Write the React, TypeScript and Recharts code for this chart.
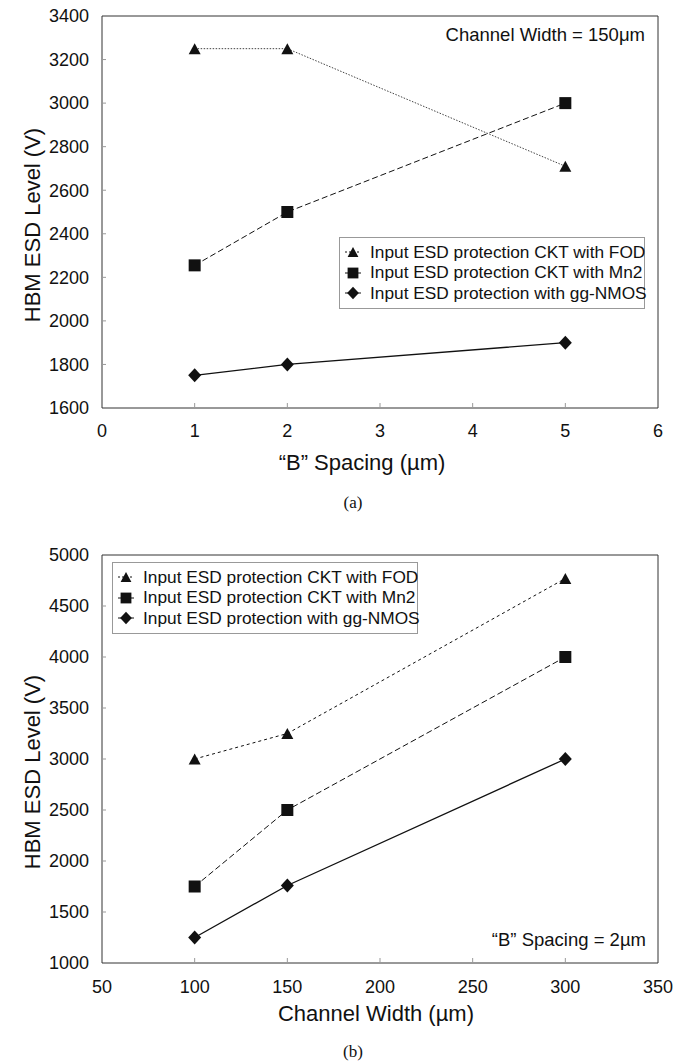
import React from "react";
import { LineChart, Line, XAxis, YAxis, Legend, ReferenceArea, Label } from "recharts";

// (a) HBM ESD level vs "B" spacing, channel width = 150um
const spacingUm = [1, 2, 5];
const fodA = [3250, 3250, 2710];
const mn2A = [2255, 2500, 3000];
const ggA = [1750, 1800, 1900];
const spacingTicks = [0, 1, 2, 3, 4, 5, 6];
const levelTicksA = [1600, 1800, 2000, 2200, 2400, 2600, 2800, 3000, 3200, 3400];

// (b) HBM ESD level vs channel width, "B" spacing = 2um
const widthUm = [100, 150, 300];
const fodB = [3000, 3250, 4770];
const mn2B = [1750, 2500, 4000];
const ggB = [1250, 1760, 3000];
const widthTicks = [50, 100, 150, 200, 250, 300, 350];
const levelTicksB = [1000, 1500, 2000, 2500, 3000, 3500, 4000, 4500, 5000];

const seriesNames = [
  "Input ESD protection CKT with FOD",
  "Input ESD protection CKT with Mn2",
  "Input ESD protection with gg-NMOS",
];

const FONT = "'Liberation Sans', Arial, Helvetica, sans-serif";
const INK = "#111";

const dataA = spacingUm.map((x, i) => ({ x, fod: fodA[i], mn2: mn2A[i], gg: ggA[i] }));
const dataB = widthUm.map((x, i) => ({ x, fod: fodB[i], mn2: mn2B[i], gg: ggB[i] }));

type Shape = "triangle" | "square" | "diamond";

function marker(shape: Shape, cx: number, cy: number, s = 1) {
  if (shape === "triangle") {
    const w = 6 * s, h = 11 * s;
    return <polygon points={`${cx - w},${cy + h / 2} ${cx + w},${cy + h / 2} ${cx},${cy - h / 2}`} fill={INK} />;
  }
  if (shape === "square") {
    const r = 6 * s;
    return <rect x={cx - r} y={cy - r} width={2 * r} height={2 * r} fill={INK} />;
  }
  const w = 6.5 * s, h = 7 * s;
  return <polygon points={`${cx},${cy - h} ${cx + w},${cy} ${cx},${cy + h} ${cx - w},${cy}`} fill={INK} />;
}

const dotFor = (shape: Shape) => (props: any) => {
  const { cx, cy, index } = props;
  if (cx == null || cy == null) return <g key={index} />;
  return <g key={`${shape}-${index}`}>{marker(shape, cx, cy)}</g>;
};

const legendItems: { shape: Shape; dash: string }[] = [
  { shape: "triangle", dash: "2 2" },
  { shape: "square", dash: "" },
  { shape: "diamond", dash: "" },
];

function LegendBox() {
  return (
    <div
      style={{
        width: 306,
        height: 72,
        boxSizing: "border-box",
        border: "1px solid #999",
        background: "#fff",
        padding: "4px 0 0 4px",
        fontFamily: FONT,
        fontSize: 17.3,
        color: INK,
        textAlign: "left",
      }}
    >
      {seriesNames.map((name, i) => (
        <div key={name} style={{ display: "flex", alignItems: "center", height: 20.5, whiteSpace: "nowrap" }}>
          <svg width={26} height={16} style={{ flex: "none" }}>
            <line x1={1} x2={17} y1={8} y2={8} stroke={INK} strokeWidth={1} strokeDasharray={legendItems[i].dash} />
            {marker(legendItems[i].shape, 9, 8, 0.9)}
          </svg>
          <span>{name}</span>
        </div>
      ))}
    </div>
  );
}

const YTick = (props: any) => {
  const { x, y, payload, index, visibleTicksCount } = props;
  const inner = index > 0 && index < visibleTicksCount - 1;
  return (
    <g>
      {inner && <line x1={x + 13} x2={x + 17} y1={y} y2={y} stroke="#999" />}
      <text x={x} y={y} dy="0.35em" textAnchor="end" fontSize={18} fontFamily={FONT} fill={INK}>
        {payload.value}
      </text>
    </g>
  );
};

const XTick = (props: any) => {
  const { x, y, payload, index, visibleTicksCount, gap } = props;
  const inner = index > 0 && index < visibleTicksCount - 1;
  return (
    <g>
      {inner && <line x1={x} x2={x} y1={y - gap} y2={y - gap - 5} stroke="#999" />}
      <text x={x} y={y} dy="0.71em" textAnchor="middle" fontSize={18} fontFamily={FONT} fill={INK}>
        {payload.value}
      </text>
    </g>
  );
};

function xTitle(text: string, dx: number, dy: number) {
  return (props: any) => {
    const vb = props.viewBox || { x: 0, y: 0, width: 0, height: 0 };
    return (
      <text x={vb.x + vb.width / 2 + dx} y={vb.y + dy} textAnchor="middle" fontSize={22} fontFamily={FONT} fill={INK}>
        {text}
      </text>
    );
  };
}

function yTitle(text: string, dx: number, dy: number) {
  return (props: any) => {
    const vb = props.viewBox || { x: 0, y: 0, width: 0, height: 0 };
    const cx = vb.x + dx;
    const cy = vb.y + vb.height / 2 + dy;
    return (
      <text
        x={cx}
        y={cy}
        transform={`rotate(-90 ${cx} ${cy})`}
        textAnchor="middle"
        dominantBaseline="central"
        fontSize={22}
        fontFamily={FONT}
        fill={INK}
      >
        {text}
      </text>
    );
  };
}

const note: React.CSSProperties = {
  position: "absolute",
  fontFamily: FONT,
  fontSize: 18.5,
  color: INK,
  whiteSpace: "nowrap",
  lineHeight: "22px",
};

const caption: React.CSSProperties = {
  position: "absolute",
  width: 80,
  textAlign: "center",
  fontFamily: "'Liberation Serif', 'Times New Roman', serif",
  fontSize: 17,
  color: INK,
  lineHeight: "20px",
};

export default function App() {
  return (
    <div style={{ position: "absolute", left: 0, top: 0, width: 674, height: 1064, background: "#fff" }}>
      {/* (a) */}
      <div style={{ position: "absolute", left: 0, top: 0 }}>
        <LineChart width={674} height={480} data={dataA} margin={{ top: 16, right: 16, left: 0, bottom: 0 }}>
          <XAxis
            dataKey="x"
            type="number"
            domain={[0, 6]}
            ticks={spacingTicks}
            axisLine={false}
            tickLine={false}
            tickSize={6}
            tickMargin={10}
            height={72}
            tick={(p: any) => <XTick {...p} gap={16} />}
            interval={0}
          >
            <Label content={xTitle("\u201CB\u201D Spacing (\u00B5m)", -18, 62)} />
          </XAxis>
          <YAxis
            type="number"
            domain={[1600, 3400]}
            ticks={levelTicksA}
            axisLine={false}
            tickLine={false}
            tickSize={6}
            tickMargin={7}
            width={102}
            tick={<YTick />}
            interval={0}
          >
            <Label content={yTitle("HBM ESD Level (V)", 32, 13)} />
          </YAxis>
          <ReferenceArea x1={0} x2={6} y1={1600} y2={3400} fill="none" stroke="#333" strokeWidth={1} ifOverflow="visible" />
          <Legend
            layout="horizontal"
            verticalAlign="middle"
            align="center"
            wrapperStyle={{ position: "absolute", left: 339, top: 237, width: 306, height: 72 }}
            content={() => <LegendBox />}
          />
          <Line dataKey="fod" stroke="#444" strokeWidth={1} strokeDasharray="1.5 1.5" dot={dotFor("triangle")} isAnimationActive={false} />
          <Line dataKey="mn2" stroke={INK} strokeWidth={1} strokeDasharray="6 3" dot={dotFor("square")} isAnimationActive={false} />
          <Line dataKey="gg" stroke={INK} strokeWidth={1.3} dot={dotFor("diamond")} isAnimationActive={false} />
        </LineChart>
        <div style={{ ...note, right: 674 - 645, top: 24 }}>Channel Width = 150{"\u03BC"}m</div>
      </div>
      <div style={{ ...caption, left: 313, top: 493 }}>(a)</div>

      {/* (b) */}
      <div style={{ position: "absolute", left: 0, top: 540 }}>
        <LineChart width={674} height={524} data={dataB} margin={{ top: 15, right: 16, left: 0, bottom: 0 }}>
          <XAxis
            dataKey="x"
            type="number"
            domain={[50, 350]}
            ticks={widthTicks}
            axisLine={false}
            tickLine={false}
            tickSize={6}
            tickMargin={11}
            height={101}
            tick={(p: any) => <XTick {...p} gap={17} />}
            interval={0}
          >
            <Label content={xTitle("Channel Width (\u00B5m)", -4, 58)} />
          </XAxis>
          <YAxis
            type="number"
            domain={[1000, 5000]}
            ticks={levelTicksB}
            axisLine={false}
            tickLine={false}
            tickSize={6}
            tickMargin={7}
            width={102}
            tick={<YTick />}
            interval={0}
          >
            <Label content={yTitle("HBM ESD Level (V)", 32, 13)} />
          </YAxis>
          <ReferenceArea x1={50} x2={350} y1={1000} y2={5000} fill="none" stroke="#333" strokeWidth={1} ifOverflow="visible" />
          <Legend
            layout="horizontal"
            verticalAlign="middle"
            align="center"
            wrapperStyle={{ position: "absolute", left: 112, top: 22, width: 306, height: 72 }}
            content={() => <LegendBox />}
          />
          <Line dataKey="fod" stroke={INK} strokeWidth={1} strokeDasharray="3 3" dot={dotFor("triangle")} isAnimationActive={false} />
          <Line dataKey="mn2" stroke={INK} strokeWidth={1} strokeDasharray="6 3" dot={dotFor("square")} isAnimationActive={false} />
          <Line dataKey="gg" stroke={INK} strokeWidth={1.3} dot={dotFor("diamond")} isAnimationActive={false} />
        </LineChart>
        <div style={{ ...note, right: 674 - 646, top: 389 }}>{"\u201CB\u201D"} Spacing = 2{"\u00B5"}m</div>
      </div>
      <div style={{ ...caption, left: 313, top: 1042 }}>(b)</div>
    </div>
  );
}
